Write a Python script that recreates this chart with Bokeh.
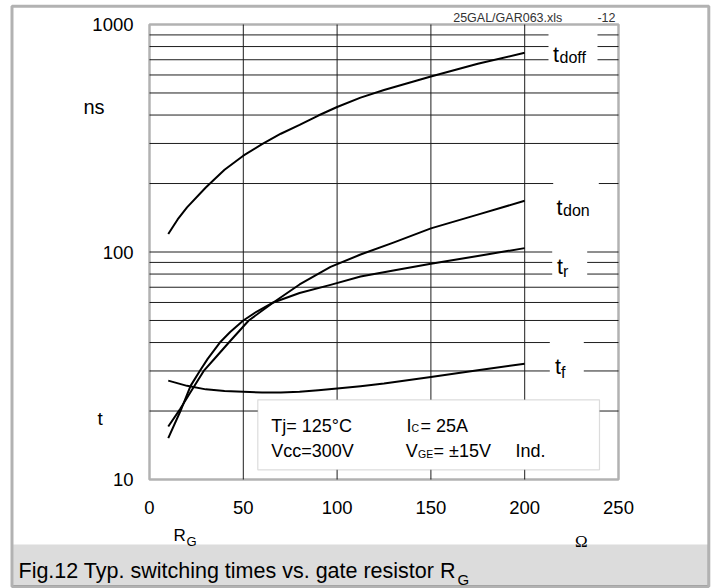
from bokeh.plotting import figure
from bokeh.models import (FixedTicker, PrintfTickFormatter, BoxAnnotation, Label,
                          LinearAxis, LogAxis)
from bokeh.embed import file_html
from bokeh.resources import INLINE

# ---------------- data ----------------
x_ticks = [0, 50, 100, 150, 200, 250]
y_ticks = [10, 100, 1000]
y_minor = [20, 30, 40, 50, 60, 70, 80, 90, 200, 300, 400, 500, 600, 700, 800, 900]

rg_doff = [10, 15, 20, 30, 40, 50, 60, 70, 80, 90, 100, 112.5, 125, 150, 175, 200]
t_doff = [120, 139, 157, 192, 230, 265, 298, 331, 362, 398, 434, 477, 515, 591, 672, 751]

rg_don = [10, 16.5, 22, 28.9, 35, 42.3, 52.9, 66, 80, 96.5, 112.5, 130, 150, 175, 200]
t_don = [17.1, 20.5, 24.3, 30, 34.2, 40, 50, 60, 72, 86, 97.5, 110, 127, 146, 168]

rg_r = [10, 16.5, 21.9, 26.8, 31, 37.5, 43, 50, 57, 66, 80, 96.5, 112.5, 130, 150, 175, 200]
t_r = [15.2, 20, 25.8, 30, 33.9, 40, 44.5, 50, 54.6, 60, 66, 71.7, 78, 83, 88.8, 96, 104]

rg_f = [10, 20, 30, 40, 50, 60, 70, 80, 90, 100, 112.5, 125, 150, 175, 200]
t_f = [27.2, 25.8, 24.9, 24.5, 24.3, 24.1, 24.1, 24.3, 24.7, 25.1, 25.7, 26.4, 28.2, 30.2, 32.3]

FONT = "Liberation Sans"
SERIF = "Liberation Serif"
GRID = "#1e1e1e"
W, H = 719, 588


# page-pixel helpers: the data area spans page x 149..618 and y 24..479
def X(px):
    return (px - 149) * (x_ticks[-1] - x_ticks[0]) / 469 + x_ticks[0]


def Y(py):
    return 10 ** (3 - (py - 24) / 227.5)


# the frame covers the whole canvas so that nothing outside the data area is clipped
p = figure(width=W, height=H, x_range=(X(0), X(W)), y_range=(Y(H), Y(0)),
           y_axis_type="log", x_axis_location=None, y_axis_location=None,
           output_backend="svg", toolbar_location=None, title=None,
           min_border=0)
p.min_border_left = p.min_border_right = p.min_border_top = p.min_border_bottom = 0
p.background_fill_color = "white"
p.border_fill_color = "white"
p.outline_line_color = None
p.xgrid.visible = False
p.ygrid.visible = False

xmin, xmax = x_ticks[0], x_ticks[-1]
ymin, ymax = y_ticks[0], y_ticks[-1]

# axes, pinned to the edges of the data area
xaxis = LinearAxis(fixed_location=ymin, ticker=FixedTicker(ticks=x_ticks),
                   formatter=PrintfTickFormatter(format="%d"))
yaxis = LogAxis(fixed_location=xmin, ticker=FixedTicker(ticks=y_ticks),
                formatter=PrintfTickFormatter(format="%d"))
for ax in (xaxis, yaxis):
    ax.axis_line_color = None
    ax.major_tick_line_color = None
    ax.minor_tick_line_color = None
    ax.major_tick_out = 0
    ax.major_tick_in = 0
    ax.minor_tick_out = 0
    ax.minor_tick_in = 0
    ax.major_label_text_font = FONT
    ax.major_label_text_font_size = "18.5px"
    ax.major_label_text_color = "black"
xaxis.major_label_standoff = 21
yaxis.major_label_standoff = 16
p.add_layout(xaxis, "below")
p.add_layout(yaxis, "left")

# grid lines, limited to the data area
x_grid = x_ticks[1:-1]
y_grid = sorted(y_minor + y_ticks[1:-1])
p.segment(x0=x_grid, y0=[ymin] * len(x_grid), x1=x_grid, y1=[ymax] * len(x_grid),
          line_color=GRID, line_width=1)
p.segment(x0=[xmin] * len(y_grid), y0=y_grid, x1=[xmax] * len(y_grid), y1=y_grid,
          line_color=GRID, line_width=1)

for xs, ys in ((rg_doff, t_doff), (rg_don, t_don), (rg_r, t_r), (rg_f, t_f)):
    p.line(xs, ys, line_color="black", line_width=2, line_join="round")


def white_box(l, r, b, t):
    p.add_layout(BoxAnnotation(left=l, right=r, bottom=b, top=t,
                               fill_color="white", fill_alpha=1,
                               line_color=None))


# gaps in the grid behind the curve labels
white_box(X(548), X(597), 650, 950)
white_box(X(552.7), X(598.3), 120, 260)
white_box(X(551.7), X(586.7), 75, 108)
white_box(X(549.3), X(583.3), 27, 46)

# condition box
p.add_layout(BoxAnnotation(left=X(257.3), right=X(599), bottom=Y(469.3), top=Y(399.3),
                           fill_color="white", fill_alpha=1,
                           line_color="#8c8c8c", line_width=1.2))

# outline of the data area
p.add_layout(BoxAnnotation(left=xmin, right=xmax, bottom=ymin, top=ymax,
                           fill_alpha=0, line_color="black", line_width=2.5))

# caption band and outer frame (canvas units)
p.add_layout(BoxAnnotation(left=13, right=707, top=544, bottom=585,
                           left_units="canvas", right_units="canvas",
                           top_units="canvas", bottom_units="canvas",
                           fill_color="#dcdcdc", fill_alpha=1, line_color=None))
p.add_layout(BoxAnnotation(left=11.5, right=708.3, top=5.7, bottom=586,
                           left_units="canvas", right_units="canvas",
                           top_units="canvas", bottom_units="canvas",
                           fill_alpha=0, line_color="black", line_width=3))


def lab(x, y, text, size, align="left", color="black", font=FONT):
    p.add_layout(Label(x=x, y=y, x_units="canvas", y_units="canvas", text=text,
                       text_font=font, text_font_size=f"{size}px",
                       text_align=align, text_baseline="alphabetic",
                       text_color=color))


# curve labels
lab(552.5, 54, "t", 21.5)
lab(559, 57, "doff", 16)
lab(556, 207.3, "t", 21.5)
lab(562.5, 209.5, "don", 16)
lab(556.5, 266, "t", 21.5)
lab(562.5, 270.7, "r", 16)
lab(554.5, 366.7, "t", 21.5)
lab(560.5, 371.7, "f", 16)

# conditions
lab(270.7, 425, "Tj= 125°C", 18)
lab(270.7, 450.7, "Vcc=300V", 18)
lab(406, 425, "I", 18)
lab(411, 427.5, "C", 10.5)
lab(420, 425, "= 25A", 18)
lab(405.3, 450.7, "V", 18)
lab(417.5, 453.2, "GE", 10.5)
lab(433, 450.7, "= ±15V", 18)
lab(515, 450.7, "Ind.", 18)

# axis texts
lab(83, 106, "ns", 20)
lab(97, 418, "t", 19)
lab(173, 535, "R", 17)
lab(186, 541, "G", 13)
lab(574.5, 541, "Ω", 17, font=SERIF)

# header
lab(452.7, 17.3, "25GAL/GAR063.xls", 12.5, color="#333333")
lab(615, 17.3, "-12", 12.5, align="right", color="#333333")

# caption
lab(18, 570, "Fig.12 Typ. switching times vs. gate resistor R", 21.5)
lab(457, 579, "G", 15)

open("out.html", "w").write(file_html(p, INLINE))
